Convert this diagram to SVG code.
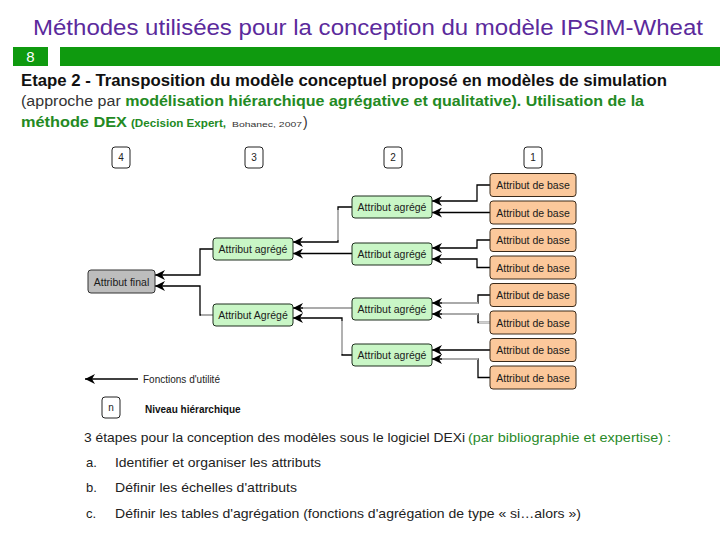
<svg xmlns="http://www.w3.org/2000/svg" width="720" height="540" viewBox="0 0 720 540">
<defs>
<style>
text{font-family:"Liberation Sans",Arial,sans-serif}
.lvl{fill:#fff;stroke:#222;stroke-width:1}
.base{fill:#fbc89b;stroke:#3a2a1a;stroke-width:1}
.agg{fill:#c9f6c6;stroke:#1e2e1e;stroke-width:1}
.fin{fill:#bdbdbd;stroke:#333;stroke-width:1}
.lab{font-size:10.5px;fill:#1a1a1a;text-anchor:middle}
.num{font-size:10px;fill:#222;text-anchor:middle}
.con{fill:none;stroke:#000;stroke-width:1.3;marker-end:url(#ar)}
.gr{fill:none;stroke:#cfcfcf;stroke-width:1.5}
.body{font-size:13px;fill:#222}
</style>
<marker id="ar" markerUnits="userSpaceOnUse" markerWidth="11" markerHeight="10" refX="10" refY="5" orient="auto">
<path d="M0,0 L10,5 L0,10 L3,5 Z" fill="#000"/>
</marker>
</defs>
<rect width="720" height="540" fill="#fff"/>
<text x="368" y="35" font-size="22" fill="#5b2a9c" text-anchor="middle" textLength="670" lengthAdjust="spacingAndGlyphs">Méthodes utilisées pour la conception du modèle IPSIM-Wheat</text>
<rect x="13" y="47" width="35" height="19" fill="#0f9a0f"/>
<text x="30.5" y="62" font-size="15" fill="#fff" text-anchor="middle">8</text>
<rect x="60" y="47" width="660" height="19" fill="#0f9a0f"/>
<text x="21" y="86" font-size="16" font-weight="bold" fill="#111" textLength="646" lengthAdjust="spacingAndGlyphs">Etape 2 - Transposition du modèle conceptuel proposé en modèles de simulation</text>
<text x="21" y="106" font-size="14" fill="#333" textLength="623" lengthAdjust="spacingAndGlyphs">(approche par <tspan font-weight="bold" fill="#238a23">modélisation hiérarchique agrégative et qualitative). Utilisation de la</tspan></text>
<text x="21" y="127" font-size="14" font-weight="bold" fill="#238a23" textLength="106" lengthAdjust="spacingAndGlyphs">méthode DEX</text>
<text x="131" y="127" font-size="10" font-weight="bold" fill="#238a23" textLength="95" lengthAdjust="spacingAndGlyphs">(Decision Expert,</text>
<text x="232" y="127" font-size="8" fill="#333" textLength="70" lengthAdjust="spacingAndGlyphs">Bohanec, 2007</text>
<text x="303" y="127" font-size="14" fill="#333">)</text>

<g id="connectors">
<path class="con" d="M490,185 H477 V201 H432"/>
<path class="con" d="M490,212.5 H432"/>
<path class="con" d="M490,240 H477 V248 H432"/>
<path class="con" d="M490,267.5 H477 V259 H432"/>
<path class="con" d="M490,295 H478 V303 H432"/>
<path class="con" d="M490,322.5 H478 V314 H432"/>
<path class="con" d="M490,350 H432"/>
<path class="con" d="M490,377.5 H478 V359 H432"/>
<path class="con" d="M352,207 H338 V242 H293"/>
<path class="con" d="M352,253.5 H293"/>
<path class="con" d="M352,308 H293"/>
<path class="con" d="M352,355 H342 V318 H293"/>
<path class="con" d="M213,249 H200 V275 H155"/>
<path class="con" d="M213,315 H200 V286 H155"/>
<path class="gr" d="M338,210 V240"/>
<path class="gr" d="M478,303 H442"/>
<path class="gr" d="M490,322.5 H479"/>
<path class="gr" d="M478,314 H442"/>
<path class="gr" d="M478,359 H442"/>
<path class="gr" d="M352,308 H303"/>
<path class="gr" d="M342,321 V354"/>
<path class="gr" d="M213,315 H201"/>
<path class="con" d="M138,379 H85"/>
</g>

<g id="lvl4"><rect class="lvl" x="112" y="147" width="18" height="21" rx="3"/><text class="num" x="121" y="161">4</text></g>
<g id="lvl3"><rect class="lvl" x="245" y="147" width="18" height="21" rx="3"/><text class="num" x="254" y="161">3</text></g>
<g id="lvl2"><rect class="lvl" x="384" y="147" width="18" height="21" rx="3"/><text class="num" x="393" y="161">2</text></g>
<g id="lvl1"><rect class="lvl" x="524" y="147" width="18" height="21" rx="3"/><text class="num" x="533" y="161">1</text></g>

<g id="base1"><rect class="base" x="490" y="173.5" width="86" height="23" rx="3"/><text class="lab" x="533" y="189">Attribut de base</text></g>
<g id="base2"><rect class="base" x="490" y="201" width="86" height="23" rx="3"/><text class="lab" x="533" y="216.5">Attribut de base</text></g>
<g id="base3"><rect class="base" x="490" y="228.5" width="86" height="23" rx="3"/><text class="lab" x="533" y="244">Attribut de base</text></g>
<g id="base4"><rect class="base" x="490" y="256" width="86" height="23" rx="3"/><text class="lab" x="533" y="271.5">Attribut de base</text></g>
<g id="base5"><rect class="base" x="490" y="283.5" width="86" height="23" rx="3"/><text class="lab" x="533" y="299">Attribut de base</text></g>
<g id="base6"><rect class="base" x="490" y="311" width="86" height="23" rx="3"/><text class="lab" x="533" y="326.5">Attribut de base</text></g>
<g id="base7"><rect class="base" x="490" y="338.5" width="86" height="23" rx="3"/><text class="lab" x="533" y="354">Attribut de base</text></g>
<g id="base8"><rect class="base" x="490" y="366" width="86" height="23" rx="3"/><text class="lab" x="533" y="381.5">Attribut de base</text></g>

<g id="agg2a"><rect class="agg" x="352" y="196" width="80" height="22" rx="3"/><text class="lab" x="392" y="211">Attribut agrégé</text></g>
<g id="agg2b"><rect class="agg" x="352" y="243" width="80" height="22" rx="3"/><text class="lab" x="392" y="258">Attribut agrégé</text></g>
<g id="agg2c"><rect class="agg" x="352" y="298" width="80" height="22" rx="3"/><text class="lab" x="392" y="313">Attribut agrégé</text></g>
<g id="agg2d"><rect class="agg" x="352" y="344" width="80" height="22" rx="3"/><text class="lab" x="392" y="359">Attribut agrégé</text></g>

<g id="agg3a"><rect class="agg" x="213" y="238" width="80" height="22" rx="3"/><text class="lab" x="253" y="253">Attribut agrégé</text></g>
<g id="agg3b"><rect class="agg" x="213" y="304" width="80" height="22" rx="3"/><text class="lab" x="253" y="319">Attribut Agrégé</text></g>

<g id="final"><rect class="fin" x="88" y="270" width="67" height="23" rx="3"/><text class="lab" x="121.5" y="285.5">Attribut final</text></g>

<g id="legend">
<text x="143" y="383" font-size="10" fill="#222">Fonctions d'utilité</text>
<rect class="lvl" x="102" y="397" width="18" height="21" rx="3"/>
<text class="num" x="111" y="411">n</text>
<text x="145" y="413" font-size="10" fill="#111" font-weight="bold" font-stretch="condensed">Niveau hiérarchique</text>
</g>

<text class="body" x="84" y="442" textLength="381" lengthAdjust="spacingAndGlyphs">3 étapes pour la conception des modèles sous le logiciel DEXi</text>
<text class="body" x="468" y="442" fill="#2a8a2a" style="fill:#2a8a2a" textLength="203" lengthAdjust="spacingAndGlyphs">(par bibliographie et expertise) :</text>
<text class="body" x="86" y="467">a.</text>
<text class="body" x="115" y="467" textLength="206" lengthAdjust="spacingAndGlyphs">Identifier et organiser les attributs</text>
<text class="body" x="86" y="492">b.</text>
<text class="body" x="115" y="492" textLength="182" lengthAdjust="spacingAndGlyphs">Définir les échelles d'attributs</text>
<text class="body" x="86" y="518">c.</text>
<text class="body" x="115" y="518" textLength="466" lengthAdjust="spacingAndGlyphs">Définir les tables d'agrégation (fonctions d'agrégation de type « si…alors »)</text>
</svg>
